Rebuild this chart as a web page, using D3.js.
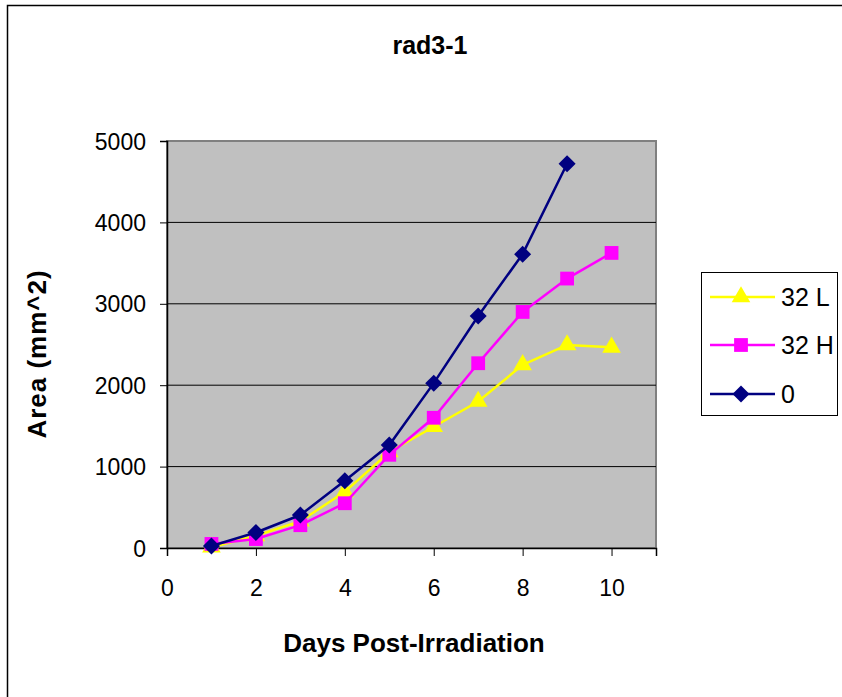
<!DOCTYPE html>
<html>
<head>
<meta charset="utf-8">
<script src="https://cdn.jsdelivr.net/npm/d3@7"></script>
<style>
  body { margin: 0; background: #fff; }
  text { font-family: "Liberation Sans", Arial, sans-serif; }
</style>
</head>
<body>
<svg></svg>
<script>
var width = 842;
var height = 697;

// data
var days = [1, 2, 3, 4, 5, 6, 7, 8, 9, 10];
var low32 = [10, 150, 330, 690, 1180, 1490, 1800, 2250, 2495, 2465];
var high32 = [50, 110, 280, 550, 1145, 1600, 2270, 2900, 3310, 3625];
var zero = [25, 190, 405, 825, 1265, 2025, 2850, 3610, 4720];
var xTicks = [0, 2, 4, 6, 8, 10];
var yTicks = [0, 1000, 2000, 3000, 4000, 5000];

var series = [
  { name: "32 L", values: low32, color: "#FFFF00", shape: "triangle" },
  { name: "32 H", values: high32, color: "#FF00FF", shape: "square" },
  { name: "0", values: zero, color: "#000080", shape: "diamond" }
];

var svg = d3.select("svg")
            .attr("width", width)
            .attr("height", height);

// outer chart frame (runs off the right and bottom)
svg.append("rect")
  .attr("x", 7.5).attr("y", 5.5)
  .attr("width", 860).attr("height", 720)
  .attr("fill", "#fff")
  .attr("stroke", "#000")
  .attr("stroke-width", 1.5);

var plotLeft = 167, plotRight = 656, plotTop = 141, plotBottom = 548;

var xScale = d3.scaleLinear().domain([0, 11]).range([plotLeft, plotRight]);
var yScale = d3.scaleLinear().domain([0, 5000]).range([plotBottom, plotTop]);

// plot area
svg.append("rect")
  .attr("x", plotLeft).attr("y", plotTop)
  .attr("width", plotRight - plotLeft).attr("height", plotBottom - plotTop)
  .attr("fill", "#C0C0C0")
  .attr("stroke", "#808080")
  .attr("stroke-width", 2);

// gridlines
svg.selectAll(".grid")
  .data(yTicks.slice(1, -1))
  .enter()
  .append("line")
  .attr("x1", plotLeft).attr("x2", plotRight)
  .attr("y1", function(d) { return yScale(d); })
  .attr("y2", function(d) { return yScale(d); })
  .attr("stroke", "#000")
  .attr("stroke-width", 1);

var yAxis = svg.append("g")
  .attr("transform", "translate(" + plotLeft + ",0)")
  .call(d3.axisLeft(yScale).tickValues(yTicks).tickFormat(d3.format("d")).tickSize(7).tickPadding(14));

var xAxis = svg.append("g")
  .attr("transform", "translate(0," + plotBottom + ")")
  .call(d3.axisBottom(xScale).tickValues(xTicks).tickSize(8).tickPadding(24));

[xAxis, yAxis].forEach(function(ax) {
  ax.select(".domain").attr("stroke", "#000").attr("stroke-width", 1.5);
  ax.selectAll(".tick line").attr("stroke", "#000").attr("stroke-width", 1);
  ax.selectAll("text")
    .attr("fill", "#000")
    .style("font-size", "23px")
    .style("font-family", "'Liberation Sans', Arial, sans-serif");
});
yAxis.selectAll("text").attr("dy", "0.35em");
xAxis.selectAll("text").attr("dy", "0.71em");

var symbols = {
  triangle: d3.symbol().type(d3.symbolTriangle).size(150),
  square: d3.symbol().type(d3.symbolSquare).size(190),
  diamond: d3.symbol().type(d3.symbolSquare).size(145)
};
var rotation = { triangle: 0, square: 0, diamond: 45 };

var line = d3.line()
  .x(function(d, i) { return xScale(days[i]); })
  .y(function(d) { return yScale(d); });

series.forEach(function(s) {
  svg.append("path")
    .datum(s.values)
    .attr("d", line)
    .attr("fill", "none")
    .attr("stroke", s.color)
    .attr("stroke-width", 2.5);

  svg.selectAll(".m-" + s.shape)
    .data(s.values)
    .enter()
    .append("path")
    .attr("transform", function(d, i) {
      return "translate(" + xScale(days[i]) + "," + yScale(d) + ") rotate(" + rotation[s.shape] + ")";
    })
    .attr("d", symbols[s.shape])
    .attr("fill", s.color);
});

// titles
svg.append("text")
  .attr("x", 430).attr("y", 54)
  .attr("text-anchor", "middle")
  .style("font-size", "25px").style("font-weight", "bold")
  .text("rad3-1");

svg.append("text")
  .attr("x", 414).attr("y", 652)
  .attr("text-anchor", "middle")
  .style("font-size", "26px").style("font-weight", "bold")
  .text("Days Post-Irradiation");

svg.append("text")
  .attr("transform", "translate(46,354) rotate(-90)")
  .attr("text-anchor", "middle")
  .style("font-size", "26px").style("font-weight", "bold")
  .style("letter-spacing", "1px")
  .text("Area (mm^2)");

// legend
var legend = svg.append("g");
legend.append("rect")
  .attr("x", 701.5).attr("y", 272.5)
  .attr("width", 136).attr("height", 143)
  .attr("fill", "#fff")
  .attr("stroke", "#000")
  .attr("stroke-width", 1);

var legendY = [297, 345, 394];
series.forEach(function(s, i) {
  var y = legendY[i];
  legend.append("line")
    .attr("x1", 710).attr("x2", 775)
    .attr("y1", y).attr("y2", y)
    .attr("stroke", s.color)
    .attr("stroke-width", 2.5);
  legend.append("path")
    .attr("transform", "translate(741," + y + ") rotate(" + rotation[s.shape] + ")")
    .attr("d", symbols[s.shape])
    .attr("fill", s.color);
  legend.append("text")
    .attr("x", 781).attr("y", y)
    .attr("dy", "0.36em")
    .style("font-size", "25px")
    .text(s.name);
});
</script>
</body>
</html>
